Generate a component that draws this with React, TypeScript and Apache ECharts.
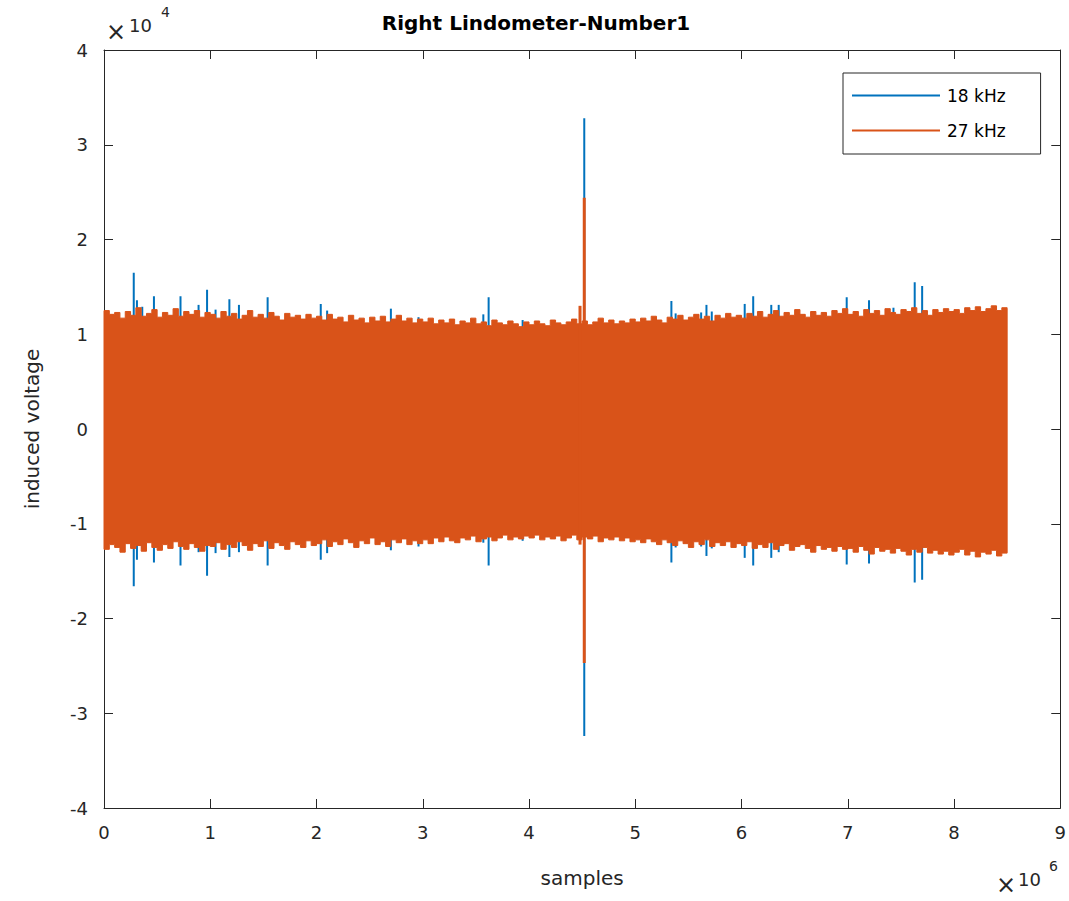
import React, { useEffect, useRef } from "react";
import * as echarts from "echarts";

// x in units of 10^6 samples, y in units of 10^4
const TITLE = "Right Lindometer-Number1";
const X_NAME = "samples";
const Y_NAME = "induced voltage";
const SERIES_NAMES = ["18 kHz", "27 kHz"];
const X_TICKS = [0, 1, 2, 3, 4, 5, 6, 7, 8, 9];
const Y_TICKS = [-4, -3, -2, -1, 0, 1, 2, 3, 4];

// 27 kHz envelope, read every 0.05e6 samples (last point at 8.5e6)
const upper27 = [
  1.25, 1.21, 1.23, 1.17, 1.24, 1.2, 1.28, 1.19, 1.22, 1.26, 1.18, 1.23, 1.2, 1.27, 1.19, 1.24, 1.21, 1.25, 1.18, 1.23,
  1.21, 1.17, 1.24, 1.19, 1.22, 1.16, 1.2, 1.25, 1.18, 1.21, 1.17, 1.23, 1.19, 1.15, 1.22, 1.18, 1.2, 1.16, 1.21, 1.17,
  1.19, 1.15, 1.21, 1.16, 1.18, 1.13, 1.2, 1.15, 1.17, 1.12, 1.18, 1.14, 1.19, 1.13, 1.16, 1.2, 1.14, 1.17, 1.12, 1.16,
  1.13, 1.17, 1.11, 1.15, 1.12, 1.16, 1.1, 1.14, 1.12, 1.17, 1.11, 1.13, 1.09, 1.15, 1.12, 1.1, 1.14, 1.11, 1.08, 1.13,
  1.1, 1.14, 1.11, 1.09, 1.15, 1.12, 1.1, 1.13, 1.16, 1.11, 1.14, 1.1, 1.13, 1.17, 1.12, 1.15, 1.11, 1.14, 1.12, 1.16,
  1.13, 1.17, 1.14, 1.19, 1.15, 1.12, 1.18, 1.16, 1.2, 1.15, 1.18, 1.21, 1.16, 1.19, 1.14, 1.2, 1.17, 1.22, 1.18, 1.2,
  1.17, 1.22, 1.19, 1.24, 1.18, 1.21, 1.25, 1.19, 1.23, 1.2, 1.26, 1.21, 1.18, 1.24, 1.2, 1.23, 1.19, 1.25, 1.22, 1.27,
  1.21, 1.24, 1.19, 1.26, 1.22, 1.25, 1.2, 1.27, 1.23, 1.21, 1.26, 1.24, 1.28, 1.22, 1.25, 1.2, 1.26, 1.23, 1.27, 1.24,
  1.26, 1.22, 1.28, 1.25, 1.29, 1.24, 1.27, 1.3, 1.25, 1.28, 1.27,
];
const lower27 = [
  -1.27, -1.22, -1.25, -1.3, -1.21, -1.26, -1.23, -1.29, -1.2, -1.25, -1.28, -1.22, -1.26, -1.19, -1.24, -1.27, -1.21, -1.25, -1.29, -1.23,
  -1.24, -1.2, -1.27, -1.22, -1.25, -1.19, -1.23, -1.28, -1.21, -1.24, -1.18, -1.26, -1.2, -1.23, -1.27, -1.19, -1.22, -1.25, -1.18, -1.23,
  -1.21, -1.17, -1.24, -1.19, -1.22, -1.16, -1.2, -1.25, -1.18, -1.21, -1.15, -1.22, -1.19, -1.24, -1.17, -1.2, -1.16, -1.22, -1.18, -1.21,
  -1.17, -1.21, -1.15, -1.19, -1.14, -1.18, -1.2, -1.15, -1.17, -1.13, -1.19, -1.16, -1.14, -1.18, -1.15, -1.12, -1.17, -1.14, -1.16, -1.13,
  -1.15, -1.12, -1.17, -1.14, -1.16, -1.13, -1.18, -1.15, -1.12, -1.17, -1.14, -1.16, -1.13, -1.19, -1.15, -1.17, -1.14, -1.18, -1.15, -1.19,
  -1.17, -1.2, -1.16, -1.19, -1.22, -1.17, -1.2, -1.23, -1.18, -1.21, -1.25, -1.19, -1.22, -1.17, -1.24, -1.2, -1.23, -1.19, -1.25, -1.21,
  -1.23, -1.19, -1.26, -1.22, -1.25, -1.2, -1.27, -1.23, -1.21, -1.28, -1.24, -1.22, -1.26, -1.3, -1.23, -1.27, -1.25, -1.29, -1.24, -1.27,
  -1.26, -1.3, -1.24, -1.28, -1.32, -1.25, -1.29, -1.27, -1.31, -1.26, -1.29, -1.33, -1.27, -1.3, -1.25, -1.31, -1.28, -1.32, -1.29, -1.33,
  -1.3, -1.27, -1.33, -1.29, -1.35, -1.3, -1.32, -1.28, -1.34, -1.31, -1.3,
];
const sampleX = upper27.map((_, i) => Math.round(i * 5) / 100);

// 27 kHz isolated spikes: [x, max, min]
const spikes27 = [
  [4.48, 1.3, -1.22],
  [4.52, 2.44, -2.47],
];

// 18 kHz spikes that stick out of the band: [x, max, min]
const spikes18 = [
  [0.28, 1.65, -1.66], [0.31, 1.36, -1.38], [0.36, 1.29, -1.27], [0.47, 1.4, -1.41],
  [0.72, 1.4, -1.44], [0.89, 1.31, -1.3], [0.97, 1.47, -1.55], [1.05, 1.26, -1.31],
  [1.18, 1.37, -1.35], [1.27, 1.31, -1.3], [1.54, 1.39, -1.44], [2.04, 1.32, -1.38],
  [2.1, 1.25, -1.31], [2.7, 1.27, -1.28], [2.96, 1.18, -1.24], [3.57, 1.21, -1.2],
  [3.62, 1.39, -1.44], [3.94, 1.15, -1.18], [4.52, 3.28, -3.24], [5.34, 1.35, -1.41],
  [5.38, 1.22, -1.25], [5.62, 1.23, -1.24], [5.67, 1.31, -1.34], [5.72, 1.24, -1.26],
  [6.03, 1.32, -1.36], [6.11, 1.4, -1.44], [6.28, 1.31, -1.36], [6.35, 1.31, -1.3],
  [6.99, 1.39, -1.43], [7.2, 1.36, -1.42], [7.43, 1.28, -1.3], [7.63, 1.55, -1.62],
  [7.7, 1.51, -1.59],
];

const BLUE = "#0072BD";
const ORANGE = "#D95319";
const AXIS = "#262626";
const FONT = "DejaVu Sans";

export default function App() {
  const ref = useRef<HTMLDivElement>(null);
  useEffect(() => {
    if (!ref.current) return;
    const chart = echarts.init(ref.current, null, { renderer: "svg" });
    const bandRows = sampleX.map((x, i) => [x, upper27[i], lower27[i]]);
    const spikeItem = (color: string, width: number) => (params: any, api: any) => {
      const x = api.value(0);
      const p1 = api.coord([x, api.value(1)]);
      const p2 = api.coord([x, api.value(2)]);
      return {
        type: "line",
        shape: { x1: p1[0], y1: p1[1], x2: p2[0], y2: p2[1] },
        style: { stroke: color, lineWidth: width },
      };
    };
    const axisCommon = {
      axisLine: { show: true, onZero: false, lineStyle: { color: AXIS, width: 1 } },
      axisTick: { show: true, inside: true, length: 9, lineStyle: { color: AXIS } },
      splitLine: { show: false },
    };
    chart.setOption({
      animation: false,
      backgroundColor: "#ffffff",
      textStyle: { fontFamily: FONT },
      title: {
        text: TITLE,
        left: 531,
        top: 8,
        textAlign: "center",
        textStyle: { fontFamily: FONT, fontWeight: "bold", fontSize: 20, color: "#000" },
      },
      legend: {
        data: [
          { name: SERIES_NAMES[0], icon: "rect" },
          { name: SERIES_NAMES[1], icon: "rect" },
        ],
        orient: "vertical",
        left: 843,
        top: 73,
        padding: [14, 35, 15, 9],
        itemGap: 18,
        itemWidth: 88,
        itemHeight: 2,
        borderColor: AXIS,
        borderWidth: 1,
        backgroundColor: "#fff",
        textStyle: { fontFamily: FONT, fontSize: 17, color: "#000", padding: [0, 0, 0, 2] },
      },
      grid: { left: 104, top: 50, width: 960, height: 758, containLabel: false },
      xAxis: [
        {
          type: "value", min: X_TICKS[0], max: X_TICKS[X_TICKS.length - 1], interval: 1, position: "bottom",
          ...axisCommon,
          axisLabel: { fontFamily: FONT, fontSize: 18, color: AXIS, margin: 15 },
          name: X_NAME, nameLocation: "middle", nameGap: 60,
          nameTextStyle: { fontFamily: FONT, fontSize: 20, color: AXIS },
        },
        {
          type: "value", min: X_TICKS[0], max: X_TICKS[X_TICKS.length - 1], interval: 1, position: "top",
          ...axisCommon, axisLabel: { show: false },
        },
      ],
      yAxis: [
        {
          type: "value", min: Y_TICKS[0], max: Y_TICKS[Y_TICKS.length - 1], interval: 1, position: "left",
          ...axisCommon,
          axisLabel: { fontFamily: FONT, fontSize: 18, color: AXIS, margin: 16, padding: [0, 0, 16, 0] },
          name: Y_NAME, nameLocation: "middle", nameGap: 62, nameRotate: 90,
          nameTextStyle: { fontFamily: FONT, fontSize: 20, color: AXIS },
        },
        {
          type: "value", min: Y_TICKS[0], max: Y_TICKS[Y_TICKS.length - 1], interval: 1, position: "right",
          ...axisCommon, axisLabel: { show: false },
        },
      ],
      graphic: [
        { type: "text", left: 106, top: 20, style: { text: "×", fontFamily: FONT, fontSize: 24, fill: AXIS } },
        { type: "text", left: 129, top: 16, style: { text: "10", fontFamily: FONT, fontSize: 18, fill: AXIS } },
        { type: "text", left: 161, top: 5, style: { text: "4", fontFamily: FONT, fontSize: 14, fill: AXIS } },
        { type: "text", left: 996, top: 873, style: { text: "×", fontFamily: FONT, fontSize: 24, fill: AXIS } },
        { type: "text", left: 1018, top: 870, style: { text: "10", fontFamily: FONT, fontSize: 18, fill: AXIS } },
        { type: "text", left: 1049, top: 859, style: { text: "6", fontFamily: FONT, fontSize: 14, fill: AXIS } },
      ],
      series: [
        {
          name: SERIES_NAMES[0],
          type: "custom",
          xAxisIndex: 0,
          yAxisIndex: 0,
          itemStyle: { color: BLUE },
          encode: { x: 0, y: [1, 2] },
          data: spikes18,
          renderItem: spikeItem(BLUE, 2),
          z: 2,
        },
        {
          name: SERIES_NAMES[1],
          type: "custom",
          xAxisIndex: 0,
          yAxisIndex: 0,
          itemStyle: { color: ORANGE },
          encode: { x: 0, y: [1, 2] },
          data: bandRows,
          renderItem: (params: any, api: any) => {
            if (params.dataIndex !== 0) return null;
            const n = bandRows.length;
            const top: number[][] = [];
            const bottom: number[][] = [];
            for (let i = 0; i < n; i++) {
              const xNext = i < n - 1 ? bandRows[i + 1][0] : bandRows[i][0];
              top.push(api.coord([bandRows[i][0], bandRows[i][1]]));
              top.push(api.coord([xNext, bandRows[i][1]]));
              bottom.push(api.coord([bandRows[i][0], bandRows[i][2]]));
              bottom.push(api.coord([xNext, bandRows[i][2]]));
            }
            return {
              type: "polygon",
              shape: { points: top.concat(bottom.reverse()) },
              style: { fill: ORANGE, stroke: ORANGE, lineWidth: 1 },
            };
          },
          z: 3,
        },
        {
          name: SERIES_NAMES[1],
          type: "custom",
          xAxisIndex: 0,
          yAxisIndex: 0,
          itemStyle: { color: ORANGE },
          encode: { x: 0, y: [1, 2] },
          data: spikes27,
          renderItem: spikeItem(ORANGE, 3),
          z: 3,
        },
      ],
    });
    return () => chart.dispose();
  }, []);
  return (
    <div
      ref={ref}
      style={{ position: "absolute", left: 0, top: 0, width: 1069, height: 901, background: "#fff" }}
    />
  );
}
